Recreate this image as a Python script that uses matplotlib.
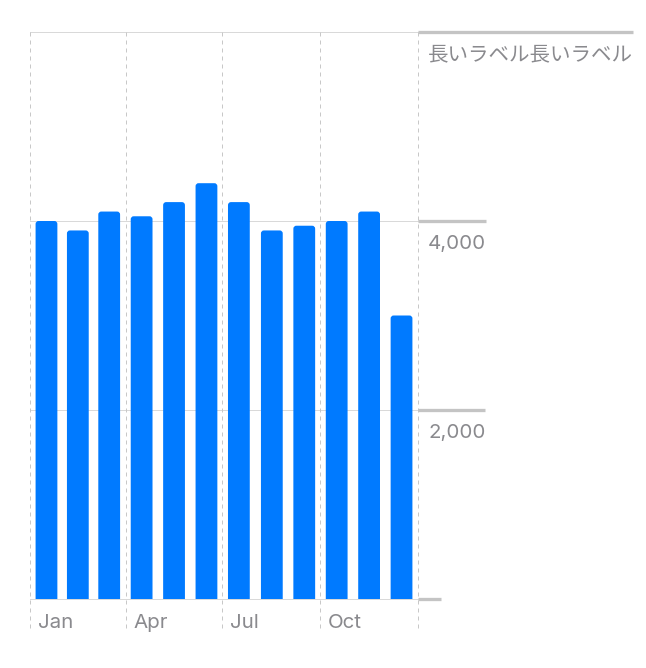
import datetime as dt
import matplotlib
matplotlib.use('Agg')
import matplotlib.pyplot as plt
import matplotlib.dates as mdates
from matplotlib.patches import FancyBboxPatch
from matplotlib.lines import Line2D

plt.rcParams['font.family'] = ['Inter', 'Noto Sans CJK JP', 'DejaVu Sans']

# data
year = 2023
months = ['Jan', 'Feb', 'Mar', 'Apr', 'May', 'Jun',
          'Jul', 'Aug', 'Sep', 'Oct', 'Nov', 'Dec']
sales = [4000, 3900, 4100, 4050, 4200, 4400, 4200, 3900, 3950, 4000, 4100, 3000]
x_label_months = [1, 4, 7, 10]
y_ticks = [0, 2000, 4000, 6000]
y_labels = ['0', '2,000', '4,000', '長いラベル長いラベル']
y_label_shown = [False, True, True, True]

blue = '#007aff'
grey_text = '#8a8a8e'
grid_col = '#d9d9d9'
tick_col = '#c4c4c4'

# 1 pt == 1 px at dpi 72
fig = plt.figure(figsize=(646 / 72, 668 / 72), dpi=72)
ax = fig.add_axes([30 / 646, 69 / 668, 388 / 646, 567 / 668])

x0 = mdates.date2num(dt.date(year, 1, 1))
x1 = mdates.date2num(dt.date(year + 1, 1, 1))
ax.set_xlim(x0, x1)
ax.set_ylim(0, 6000)
for s in ax.spines.values():
    s.set_visible(False)
ax.set_xticks([])
ax.set_yticks([])

ax_w, ax_h = 388, 567
days_px = (x1 - x0) / ax_w
units_px = 6000 / ax_h

# horizontal grid
for v in y_ticks:
    ax.axhline(v, color=grid_col, lw=1, zorder=0, clip_on=False)

# dashed quarter lines, reaching below the axis under the month labels
xt = ax.get_xaxis_transform()
for m in x_label_months + [13]:
    d = dt.date(year, m, 1) if m <= 12 else dt.date(year + 1, 1, 1)
    xd = mdates.date2num(d)
    ax.plot([xd, xd], [1, -33 / ax_h], transform=xt, color='#c8c8c8',
            lw=1, ls=(0, (4, 4)), clip_on=False, zorder=0)
    if m <= 12:
        ax.annotate(months[m - 1], xy=(xd, 0), xycoords=xt, xytext=(8, -29),
                    textcoords='offset points', ha='left', va='baseline',
                    fontsize=20.5, color=grey_text)

# bars with rounded tops
bar_w = 20.5
r = 3
for i, v in enumerate(sales):
    start = mdates.date2num(dt.date(year, i + 1, 1))
    end = mdates.date2num(dt.date(year + (i == 11), (i + 1) % 12 + 1, 1))
    c = (start + end) / 2
    rx = r * days_px
    ry = r * units_px
    p = FancyBboxPatch((c - bar_w / 2 + rx, -500), bar_w - 2 * rx, v + 500 - ry,
                       boxstyle=f'round,pad={rx},rounding_size={rx}',
                       mutation_aspect=units_px / days_px,
                       fc=blue, ec='none', zorder=2)
    ax.add_patch(p)

# y labels on the right, below their lines
yt = ax.get_yaxis_transform()
texts = []
for v, lab, show in zip(y_ticks, y_labels, y_label_shown):
    t = ax.annotate(lab, xy=(1, v), xycoords=yt, xytext=(10, -28),
                    textcoords='offset points', ha='left', va='baseline',
                    fontsize=20.5, color=grey_text, alpha=1 if show else 0)
    texts.append((v, t))

fig.canvas.draw()
renderer = fig.canvas.get_renderer()
inv = fig.transFigure.inverted()
for v, t in texts:
    bb = t.get_window_extent(renderer)
    y_disp = ax.transData.transform((x0, v))[1]
    a = inv.transform((ax.bbox.x1, y_disp))
    b = inv.transform((bb.x1, y_disp))
    fig.add_artist(Line2D([a[0], b[0]], [a[1], b[1]], transform=fig.transFigure,
                          color=tick_col, lw=3.3, solid_capstyle='butt'))

fig.savefig('out.png', dpi=72)
